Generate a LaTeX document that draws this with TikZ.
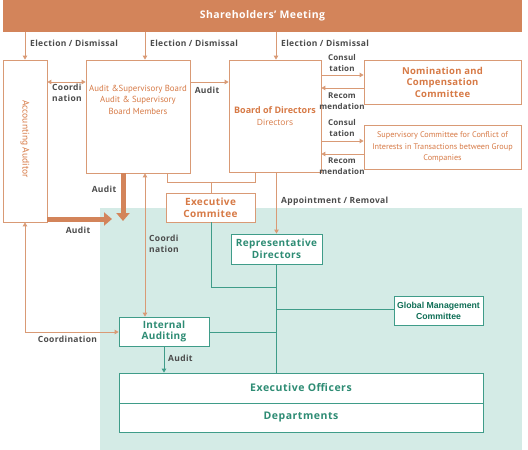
\documentclass[tikz,border=0pt]{standalone}
\usepackage{fontspec}
\setmainfont{Open Sans}
\newfontfamily\ptf{PT Sans}
\newfontfamily\arialf{Liberation Sans}
\newcommand\lsp[1]{\addfontfeature{LetterSpace=#1}}
\usetikzlibrary{arrows.meta}
\definecolor{orgban}{HTML}{D3845A}
\definecolor{orgtxt}{HTML}{D77A46}
\definecolor{orgline}{HTML}{D99A75}
\definecolor{tealline}{HTML}{3F9C89}
\definecolor{tealtxt}{HTML}{2E8C74}
\definecolor{tealbg}{HTML}{D4EBE6}
\definecolor{gmc}{HTML}{0E6E55}
\definecolor{lbl}{HTML}{4B4B4B}
\tikzset{
  obox/.style={draw=orgline, fill=white, line width=0.8pt, inner sep=0pt, align=center, text=orgtxt},
  tbox/.style={draw=tealline, fill=white, line width=0.8pt, inner sep=0pt, align=center, text=tealtxt},
  oline/.style={draw=orgline, line width=0.9pt},
  tline/.style={draw=tealline, line width=0.9pt},
  otip/.style={-{Triangle[width=4.5pt,length=4pt]}},
  dtip/.style={{Triangle[width=4.5pt,length=4pt]}-{Triangle[width=4.5pt,length=4pt]}},
  lab/.style={text=lbl, font=\fontsize{8.5}{10}\selectfont\bfseries\lsp{4}, inner sep=0pt, align=center},
  slab/.style={text=lbl, font=\fontsize{8}{11}\selectfont\bfseries\lsp{2}, inner sep=0pt, align=center},
  thick arrow/.style={draw=orgban, line width=5pt, -{Triangle[width=13pt,length=8pt]}}
}
\begin{document}
\begin{tikzpicture}[x=1pt,y=-1pt]
\useasboundingbox (0,0) rectangle (528,450);
\fill[tealbg] (100,208) rectangle (522,450);

% banner
\node[fill=orgban, minimum width=519pt, minimum height=32pt, inner sep=0pt, text=white,
      font=\fontsize{10.5}{13}\selectfont\bfseries\lsp{4}] (banner) at (262.5,16) {Shareholders' Meeting};

% boxes
\node[obox, minimum width=44pt, minimum height=162pt] (acc) at (25,141) {};
\node[text=orgtxt, rotate=-90, font=\ptf\fontsize{9.5}{11}\selectfont] (acct) at (25,139) {Accounting Auditor};
\node[obox, minimum width=104pt, minimum height=113pt, font=\ptf\fontsize{8.8}{11.5}\selectfont] (asb) at (138,116.5)
  {Audit \&Supervisory Board\\Audit \& Supervisory\\Board Members\\[22pt]};
\node[obox, minimum width=92pt, minimum height=112pt] (bod) at (275,116)
  {{\fontsize{9}{12}\selectfont\bfseries Board of Directors}\\{\fontsize{8.5}{11}\selectfont Directors}};
\node[obox, minimum width=157pt, minimum height=44pt, font=\fontsize{9.5}{11.5}\selectfont\bfseries\lsp{3}] (nom) at (442.5,82)
  {Nomination and\\Compensation\\Committee};
\node[obox, minimum width=157pt, minimum height=44pt, font=\ptf\fontsize{8.2}{11.5}\selectfont] (sup) at (442.5,147)
  {Supervisory Committee for Conflict of\\Interests in Transactions between Group\\Companies};
\node[obox, minimum width=89pt, minimum height=29pt, font=\fontsize{10}{11.5}\selectfont\bfseries\lsp{4}] (exc) at (210.5,207.5)
  {Executive\\Commitee};
\node[tbox, minimum width=91pt, minimum height=30pt, font=\fontsize{10}{12}\selectfont\bfseries\lsp{4}] (rep) at (276.5,249)
  {Representative\\Directors};
\node[tbox, minimum width=90pt, minimum height=29pt, font=\fontsize{10}{11}\selectfont\bfseries\lsp{3}] (ia) at (164,331.5)
  {Internal\\Auditing};
\node[tbox, minimum width=89pt, minimum height=29pt, text=gmc, font=\arialf\fontsize{8.7}{11}\selectfont\bfseries] (gmc) at (438.5,310.5)
  {Global Management\\Committee};
\node[tbox, minimum width=364pt, minimum height=30pt, font=\fontsize{10.5}{12}\selectfont\bfseries\lsp{5}] (eo) at (301,388)
  {Executive Officers};
\node[tbox, minimum width=364pt, minimum height=29pt, font=\fontsize{10.5}{12}\selectfont\bfseries\lsp{5}] (dep) at (301,417.5)
  {Departments};

% coordinates
\coordinate (e2) at (145,0);
\coordinate (e3) at (276,0);
\coordinate (y82) at (0,82);
\coordinate (yc1) at (0,75);
\coordinate (yr1) at (0,88);
\coordinate (yc2) at (0,141);
\coordinate (yr2) at (0,154);
\coordinate (bl) at (167,182);
\coordinate (br) at (255,182);
\coordinate (bm) at (211,182);
\coordinate (ta) at (123,221);
\coordinate (th) at (112,219);
\coordinate (ac) at (25,332);
\coordinate (x123) at (123,0);
\coordinate (ecl) at (211,287);
\coordinate (ecr) at (276.5,287);
\coordinate (gl) at (276.5,309);
\coordinate (il) at (276.5,332);

% election arrows
\draw[oline, otip] (banner.south -| acc.north) -- (acc.north);
\draw[oline, otip] (banner.south -| e2) -- (asb.north -| e2);
\draw[oline, otip] (banner.south -| e3) -- (bod.north -| e3);
\node[lab, anchor=west] (l1) at (30,43) {Election / Dismissal};
\node[lab, anchor=west] (l2) at (150,43) {Election / Dismissal};
\node[lab, anchor=west] (l3) at (281,43) {Election / Dismissal};

% coordination acc-asb
\draw[oline, dtip] (acc.east |- y82) -- (asb.west |- y82);
\node[lab, anchor=north west, align=left, font=\fontsize{8.5}{10.5}\selectfont\bfseries\lsp{4}] (l4) at (52,84) {Coordi\\nation};
% audit asb-bod
\draw[oline, otip] (asb.east |- y82) -- (bod.west |- y82);
\node[lab] (l5) at (207,90) {Audit};

% consultation / recommendation
\draw[oline, otip] (bod.east |- yc1) -- (nom.west |- yc1);
\draw[oline, otip] (nom.west |- yr1) -- (bod.east |- yr1);
\draw[oline, otip] (bod.east |- yc2) -- (sup.west |- yc2);
\draw[oline, otip] (sup.west |- yr2) -- (bod.east |- yr2);
\node[slab] (l6) at (342,62.5) {Consul\\tation};
\node[slab] (l7) at (342,101.5) {Recom\\mendation};
\node[slab] (l8) at (342,127.5) {Consul\\tation};
\node[slab] (l9) at (342,166.5) {Recom\\mendation};

% bracket to executive committee
\draw[oline] (asb.south -| bl) -- (bl) -- (br) -- (bod.south -| br);
\draw[oline] (bm) -- (exc.north -| bm);

% appointment
\draw[oline, otip] (bod.south -| rep.north) -- (rep.north);
\node[lab, anchor=west] (l10) at (281,201) {Appointment / Removal};

% thick audit arrows
\draw[thick arrow] (asb.south -| x123) -- (ta);
\draw[thick arrow] (acc.east |- th) -- (th);
\node[lab] (l11) at (104,189) {Audit};
\node[lab] (l12) at (78,230) {Audit};

% coordination asb - internal auditing
\draw[oline, dtip] (asb.south -| e2) -- (ia.north -| e2);
\node[lab, anchor=north west, align=left, font=\fontsize{8.5}{10.5}\selectfont\bfseries\lsp{4}] (l13) at (149,235) {Coordi\\nation};

% coordination acc - internal auditing
\draw[oline, dtip] (acc.south) -- (ac) -- (ia.west |- ac);
\node[lab] (l14) at (67.5,339) {Coordination};

% teal lines
\draw[tline, otip] (ia.south) -- (eo.north -| ia.south);
\node[lab, anchor=west] (l15) at (168,358) {Audit};
\draw[tline] (exc.south -| ecl) -- (ecl) -- (ecr);
\draw[tline] (rep.south) -- (eo.north -| rep.south);
\draw[tline] (gl) -- (gmc.west |- gl);
\draw[tline] (ia.east |- il) -- (il);
\end{tikzpicture}
\end{document}
